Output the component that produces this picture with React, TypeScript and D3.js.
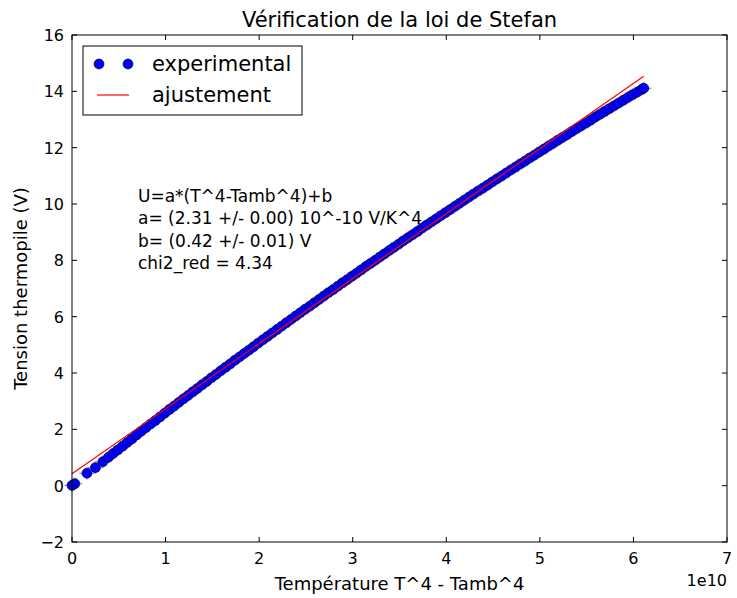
import React from "react";
import * as d3 from "d3";

// données (x en unités de 1e10 K^4, y en V)
const xData = [
  0, 0.03, 0.16, 0.25, 0.33, 0.39, 0.44, 0.49, 0.54, 0.59,
  0.64, 0.69, 0.74, 0.79, 0.84, 0.89, 0.94, 0.99, 1.04, 1.09, 1.14, 1.19, 1.24, 1.29, 1.34, 1.39,
  1.44, 1.49, 1.54, 1.59, 1.64, 1.69, 1.74, 1.79, 1.84, 1.89, 1.94, 1.99, 2.04, 2.09, 2.14, 2.19,
  2.24, 2.29, 2.34, 2.39, 2.44, 2.49, 2.54, 2.59, 2.64, 2.69, 2.74, 2.79, 2.84, 2.89, 2.94, 2.99,
  3.04, 3.09, 3.14, 3.19, 3.24, 3.29, 3.34, 3.39, 3.44, 3.49, 3.54, 3.59, 3.64, 3.69, 3.74, 3.79,
  3.84, 3.89, 3.94, 3.99, 4.04, 4.09, 4.14, 4.19, 4.24, 4.29, 4.34, 4.39, 4.44, 4.49, 4.54, 4.59,
  4.64, 4.69, 4.74, 4.79, 4.84, 4.89, 4.94, 4.99, 5.04, 5.09, 5.14, 5.19, 5.24, 5.29, 5.34, 5.39,
  5.44, 5.49, 5.54, 5.59, 5.64, 5.69, 5.74, 5.79, 5.84, 5.89, 5.94, 5.99, 6.04, 6.09, 6.11,
];
const yData = [
  0.01, 0.07, 0.44, 0.64, 0.85, 1.01, 1.14, 1.27, 1.4, 1.53,
  1.66, 1.8, 1.93, 2.06, 2.19, 2.31, 2.44, 2.57, 2.7, 2.82, 2.95, 3.08, 3.2, 3.33, 3.45, 3.58,
  3.7, 3.83, 3.95, 4.08, 4.2, 4.32, 4.45, 4.57, 4.69, 4.81, 4.93, 5.06, 5.18, 5.3, 5.42, 5.54,
  5.66, 5.78, 5.9, 6.02, 6.14, 6.26, 6.37, 6.49, 6.61, 6.73, 6.85, 6.96, 7.08, 7.2, 7.31, 7.43,
  7.54, 7.66, 7.78, 7.89, 8.0, 8.12, 8.23, 8.35, 8.46, 8.57, 8.69, 8.8, 8.91, 9.02, 9.14, 9.25,
  9.36, 9.47, 9.58, 9.69, 9.8, 9.91, 10.02, 10.13, 10.24, 10.35, 10.46, 10.56, 10.67, 10.78, 10.89, 10.99,
  11.1, 11.21, 11.31, 11.42, 11.52, 11.63, 11.73, 11.84, 11.94, 12.05, 12.15, 12.26, 12.36, 12.46, 12.57, 12.67,
  12.77, 12.87, 12.97, 13.08, 13.18, 13.28, 13.38, 13.48, 13.58, 13.68, 13.78, 13.88, 13.97, 14.07, 14.11,
];
const xErr = 0.08;
const yErr = 0.22;

// ajustement U = a*x + b
const fitA = 2.31; // par 1e10
const fitB = 0.42;
const fitRange = [0, 6.11];

const xTicks = [0, 1, 2, 3, 4, 5, 6, 7];
const yTicks = [-2, 0, 2, 4, 6, 8, 10, 12, 14, 16];
const infoLines = [
  "U=a*(T^4-Tamb^4)+b",
  "a= (2.31 +/- 0.00) 10^-10 V/K^4",
  "b= (0.42 +/- 0.01) V",
  "chi2_red = 4.34",
];

const W = 737;
const H = 598;
const m = { left: 72, right: 727, top: 35, bottom: 542 };
const font = "DejaVu Sans, sans-serif";

export default function App() {
  const x = d3.scaleLinear().domain([0, 7]).range([m.left, m.right]);
  const y = d3.scaleLinear().domain([-2, 16]).range([m.bottom, m.top]);
  const fitLine = d3
    .line<number>()
    .x((d) => x(d))
    .y((d) => y(fitA * d + fitB));

  return (
    <svg width={W} height={H} style={{ position: "absolute", left: 0, top: 0 }} fontFamily={font}>
      <rect width={W} height={H} fill="#fff" />
      <text x={(m.left + m.right) / 2} y={27} textAnchor="middle" fontSize={21}>
        Vérification de la loi de Stefan
      </text>

      {/* barres d'erreur */}
      {xData.map((d, i) => (
        <g key={"e" + i} stroke="#8080ff" strokeWidth={1.2}>
          <line x1={x(d - xErr)} x2={x(d + xErr)} y1={y(yData[i])} y2={y(yData[i])} />
          <line x1={x(d)} x2={x(d)} y1={y(yData[i] - yErr)} y2={y(yData[i] + yErr)} />
        </g>
      ))}
      {xData.map((d, i) => (
        <circle key={"p" + i} cx={x(d)} cy={y(yData[i])} r={5} fill="#0000ff" stroke="#000" strokeWidth={0.6} />
      ))}
      <path d={fitLine(fitRange) || ""} stroke="#ff0000" strokeWidth={1.2} fill="none" />

      {/* cadre et graduations */}
      <rect x={m.left} y={m.top} width={m.right - m.left} height={m.bottom - m.top} fill="none" stroke="#000" strokeWidth={1} />
      {xTicks.map((t) => (
        <g key={"xt" + t}>
          <line x1={x(t)} x2={x(t)} y1={m.bottom} y2={m.bottom - 5} stroke="#000" />
          <line x1={x(t)} x2={x(t)} y1={m.top} y2={m.top + 5} stroke="#000" />
          <text x={x(t)} y={m.bottom + 22} textAnchor="middle" fontSize={16}>{t}</text>
        </g>
      ))}
      {yTicks.map((t) => (
        <g key={"yt" + t}>
          <line x1={m.left} x2={m.left + 5} y1={y(t)} y2={y(t)} stroke="#000" />
          <line x1={m.right} x2={m.right - 5} y1={y(t)} y2={y(t)} stroke="#000" />
          <text x={m.left - 8} y={y(t) + 6} textAnchor="end" fontSize={16}>
            {t < 0 ? "\u2212" + Math.abs(t) : t}
          </text>
        </g>
      ))}
      <text x={m.right} y={586} textAnchor="end" fontSize={16}>1e10</text>
      <text x={(m.left + m.right) / 2} y={590} textAnchor="middle" fontSize={18}>
        Température T^4 - Tamb^4
      </text>
      <text transform={`translate(27,${(m.top + m.bottom) / 2}) rotate(-90)`} textAnchor="middle" fontSize={18}>
        Tension thermopile (V)
      </text>

      {/* annotation */}
      {infoLines.map((s, i) => (
        <text key={s} x={138} y={202 + i * 22.4} fontSize={17}>{s}</text>
      ))}

      {/* légende */}
      <rect x={83} y={46} width={219} height={69} fill="#fff" stroke="#000" />
      <circle cx={99} cy={64} r={5} fill="#0000ff" stroke="#000" strokeWidth={0.6} />
      <circle cx={128} cy={64} r={5} fill="#0000ff" stroke="#000" strokeWidth={0.6} />
      <text x={152} y={71} fontSize={21}>experimental</text>
      <line x1={97} x2={129} y1={95} y2={95} stroke="#ff0000" strokeWidth={1.2} />
      <text x={152} y={102} fontSize={21}>ajustement</text>
    </svg>
  );
}
